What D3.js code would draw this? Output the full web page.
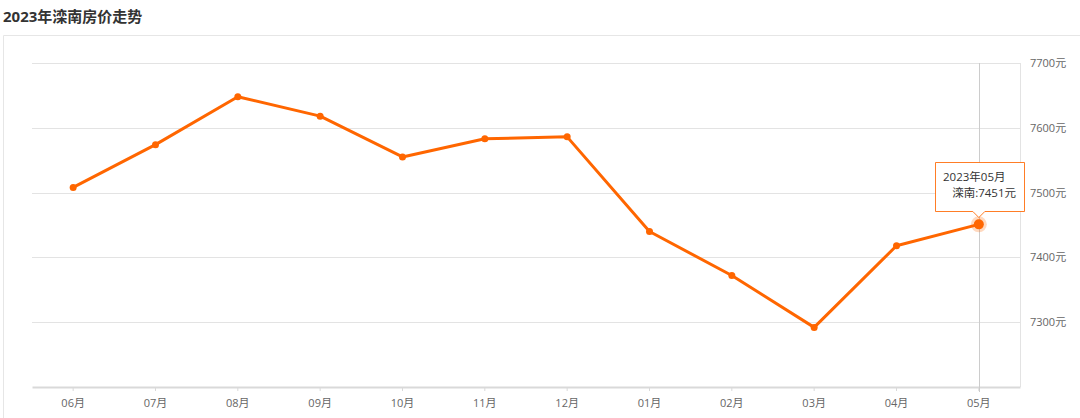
<!DOCTYPE html>
<html><head><meta charset="utf-8">
<script src="https://cdn.jsdelivr.net/npm/d3@7"></script>
<style>
html,body{margin:0;padding:0;background:#fff;}
svg{display:block;font-family:"Open Sans","Noto Sans CJK SC",sans-serif;}
</style></head>
<body><svg id="c" width="1080" height="418"></svg>
<script>
const title = "2023年滦南房价走势";
const months = ["06月","07月","08月","09月","10月","11月","12月","01月","02月","03月","04月","05月"];
const prices = [7508,7574,7648,7618,7555,7583,7586,7440,7372,7292,7418,7451];
const yTicks = [7300,7400,7500,7600,7700];
const seriesName = "滦南";
const tipTitle = "2023年05月";
const unit = "元";

const svg = d3.select("#c");
const M = {left:32, right:1020, top:63, bottom:387};
const color = "#ff6600";

svg.append("text").attr("x",3).attr("y",22).attr("font-size",15).attr("font-weight","bold")
  .attr("fill","#333").text(title);

// outer frame
svg.append("path").attr("d","M3.5,418 V35.5 H1080").attr("fill","none").attr("stroke","#e6e6e6");

const x = d3.scaleBand().domain(months).range([M.left,M.right]);
const y = d3.scaleLinear().domain([7200,7700]).range([M.bottom,M.top]);

// gridlines
svg.append("g").selectAll("line").data(yTicks).join("line")
  .attr("x1",M.left).attr("x2",M.right)
  .attr("y1",d=>Math.round(y(d))+0.5).attr("y2",d=>Math.round(y(d))+0.5)
  .attr("stroke","#e3e3e3");
// right edge line
svg.append("line").attr("x1",M.right+0.5).attr("x2",M.right+0.5).attr("y1",M.top).attr("y2",M.bottom)
  .attr("stroke","#e3e3e3");

// y labels
svg.append("g").selectAll("text").data(yTicks).join("text")
  .attr("x",1030).attr("y",d=>y(d)+4).attr("font-size",11).attr("fill","#666")
  .text(d=>d+unit);

// x axis
const xa = svg.append("g").attr("transform",`translate(0,${M.bottom})`)
  .call(d3.axisBottom(x).tickSize(4).tickPadding(8).tickSizeOuter(0));
xa.select(".domain").attr("stroke","#d9d9d9").attr("stroke-width",2);
xa.selectAll(".tick line").attr("stroke","#d9d9d9");
xa.selectAll(".tick text").attr("fill","#666").attr("font-size",11)
  .attr("font-family","\"Open Sans\",\"Noto Sans CJK SC\",sans-serif");

const cx = d => x(d) + x.bandwidth()/2;
const last = months.length-1;

// crosshair
svg.append("line").attr("x1",Math.round(cx(months[last]))+0.5).attr("x2",Math.round(cx(months[last]))+0.5)
  .attr("y1",M.top).attr("y2",M.bottom+5).attr("stroke","#ccc");

// line
svg.append("path").datum(prices)
  .attr("d",d3.line().x((d,i)=>cx(months[i])).y(d=>y(d)))
  .attr("fill","none").attr("stroke",color).attr("stroke-width",3).attr("stroke-linejoin","round");

svg.append("g").selectAll("circle").data(prices.slice(0,last)).join("circle")
  .attr("cx",(d,i)=>cx(months[i])).attr("cy",d=>y(d)).attr("r",3.5).attr("fill",color);

// highlighted point
const hx = cx(months[last]), hy = y(prices[last]);
svg.append("circle").attr("cx",hx).attr("cy",hy).attr("r",8).attr("fill",color).attr("opacity",0.25);
svg.append("circle").attr("cx",hx).attr("cy",hy).attr("r",5).attr("fill",color);

// tooltip
const tl = 935.5, tr = 1024.5, tt = 162.5, tb = 211.5;
svg.append("path")
  .attr("d",`M${tl},${tt} H${tr} V${tb} H${hx+6} L${hx},${tb+6} L${hx-6},${tb} H${tl} Z`)
  .attr("fill","#fff").attr("stroke",color).attr("stroke-opacity",0.85);
svg.append("text").attr("x",943).attr("y",181).attr("font-size",11.5).attr("fill","#333").text(tipTitle);
svg.append("text").attr("x",1016).attr("y",197).attr("font-size",11.5).attr("fill","#333")
  .attr("text-anchor","end").text(seriesName+":"+prices[last]+unit);
</script></body></html>
